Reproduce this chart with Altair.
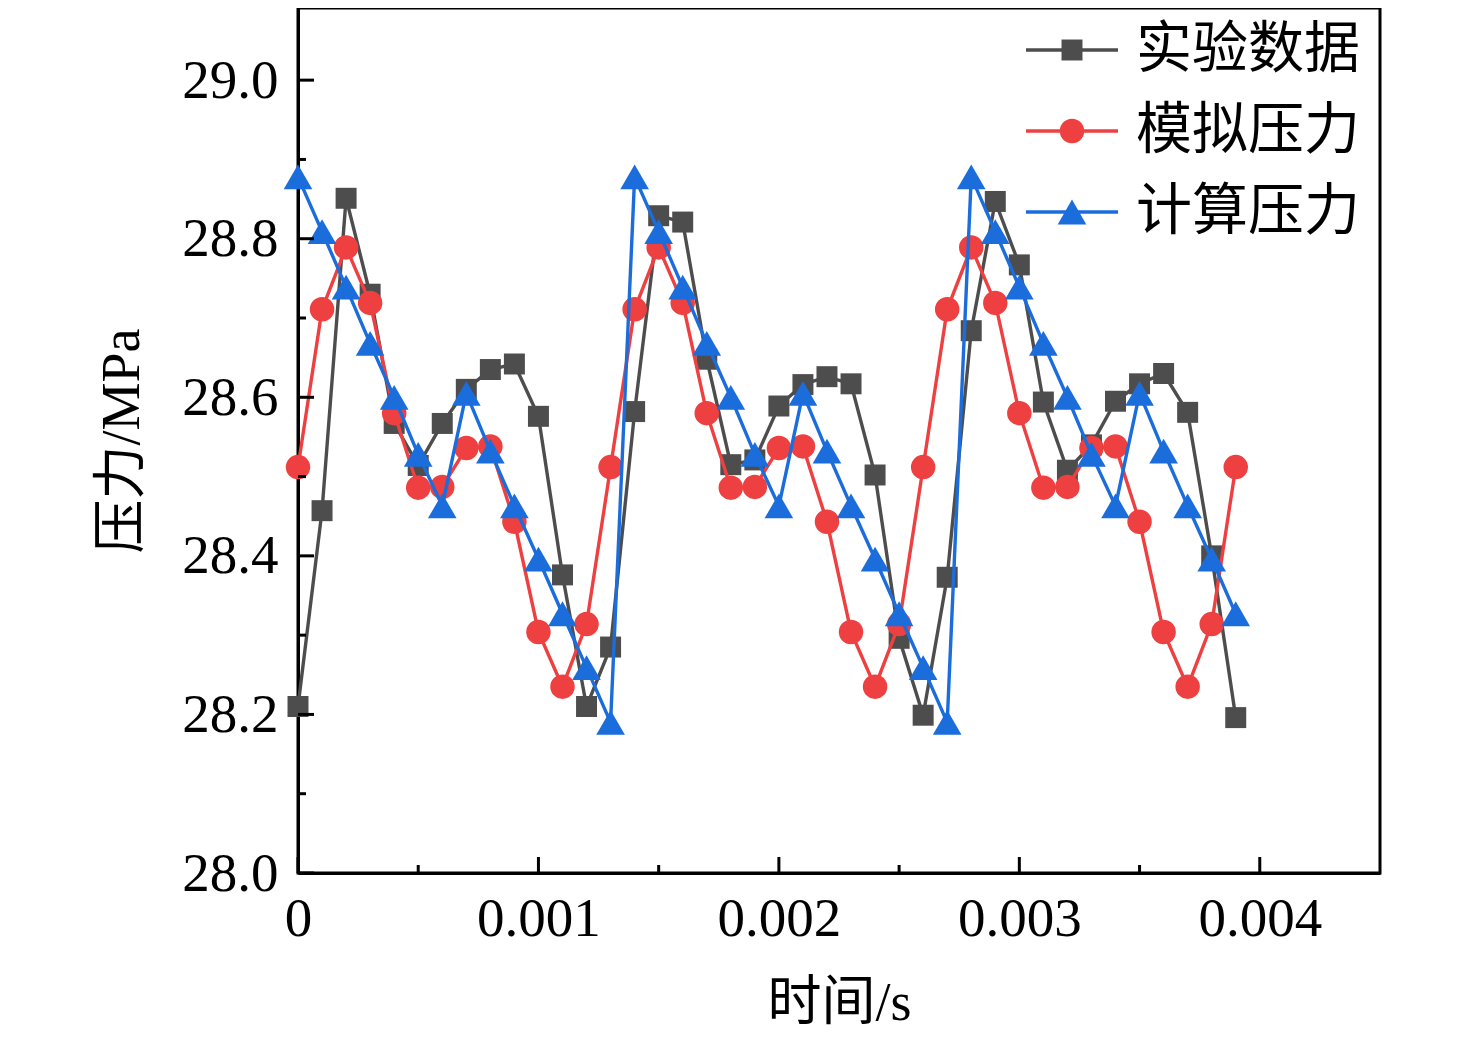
"Pressure vs time: experiment, simulation and calculation"

import pandas as pd
import altair as alt

time_s = [0.0, 0.0001, 0.0002, 0.0003, 0.0004, 0.0005, 0.0006, 0.0007, 0.0008, 0.0009,
          0.0010, 0.0011, 0.0012, 0.0013, 0.0014, 0.0015, 0.0016, 0.0017, 0.0018, 0.0019,
          0.0020, 0.0021, 0.0022, 0.0023, 0.0024, 0.0025, 0.0026, 0.0027, 0.0028, 0.0029,
          0.0030, 0.0031, 0.0032, 0.0033, 0.0034, 0.0035, 0.0036, 0.0037, 0.0038, 0.0039]

experiment = [28.210, 28.457, 28.851, 28.730, 28.567, 28.514, 28.567, 28.610, 28.635, 28.642,
              28.576, 28.376, 28.210, 28.285, 28.582, 28.829, 28.821, 28.648, 28.515, 28.521,
              28.589, 28.616, 28.626, 28.617, 28.502, 28.296, 28.199, 28.373, 28.684, 28.847,
              28.767, 28.594, 28.508, 28.540, 28.595, 28.617, 28.630, 28.581, 28.400, 28.196]

simulated = [28.512, 28.711, 28.789, 28.719, 28.580, 28.486, 28.487, 28.536, 28.538, 28.443,
             28.304, 28.235, 28.314, 28.512, 28.711, 28.789, 28.719, 28.580, 28.486, 28.487,
             28.536, 28.538, 28.443, 28.304, 28.235, 28.314, 28.512, 28.711, 28.789, 28.719,
             28.580, 28.486, 28.487, 28.536, 28.538, 28.443, 28.304, 28.235, 28.314, 28.512]

calculated = [28.878, 28.809, 28.739, 28.668, 28.600, 28.528, 28.463, 28.605, 28.532, 28.463,
              28.396, 28.327, 28.259, 28.190, 28.878, 28.809, 28.739, 28.668, 28.600, 28.528,
              28.463, 28.605, 28.532, 28.463, 28.396, 28.327, 28.259, 28.190, 28.878, 28.809,
              28.739, 28.668, 28.600, 28.528, 28.463, 28.605, 28.532, 28.463, 28.396, 28.327]

series_names = ["实验数据", "模拟压力", "计算压力"]
series_colors = ["#4D4D4D", "#EE4041", "#1B6DDC"]
series_shapes = ["square", "circle", "triangle-up"]
series_sizes = [440, 600, 820]

x_major = [0.0, 0.001, 0.002, 0.003, 0.004]
x_minor = [0.0005, 0.0015, 0.0025, 0.0035]
y_major = [28.0, 28.2, 28.4, 28.6, 28.8, 29.0]
y_minor = [28.1, 28.3, 28.5, 28.7, 28.9]

FONT = "Liberation Serif, Noto Sans CJK SC"
LINE_W = 3.4

df = pd.concat([
    pd.DataFrame({"time": time_s, "value": vals, "series": name})
    for name, vals in zip(series_names, [experiment, simulated, calculated])
])

x_enc = alt.X("time:Q", scale=alt.Scale(domain=[0, 0.0045], nice=False),
              axis=alt.Axis(values=x_major, format="~g", title="时间/s", labelFlush=False,
                            labelPadding=19, titlePadding=30))
y_enc = alt.Y("value:Q", scale=alt.Scale(domain=[28.0, 29.091], nice=False, zero=False),
              axis=alt.Axis(values=y_major, format=".1f", title="压力/MPa", labelFlush=False,
                            labelPadding=20, titlePadding=32))
color_enc = alt.Color("series:N", scale=alt.Scale(domain=series_names, range=series_colors),
                      legend=None)

# legend rows share a point scale keyed on the series name
legend_df = pd.DataFrame({"series": series_names})
legend_y = alt.Y("series:N", axis=None,
                 scale=alt.Scale(type="point", domain=series_names, range=[42, 204], padding=0))

base = alt.Chart(df)
legend_base = alt.Chart(legend_df)
layers = []
legend_layers = []
for name, shape, size in zip(series_names, series_shapes, series_sizes):
    one = base.transform_filter(alt.datum.series == name)
    layers.append(one.mark_line(strokeWidth=LINE_W).encode(x=x_enc, y=y_enc, color=color_enc))
    layers.append(one.mark_point(filled=True, opacity=1, shape=shape, size=size).encode(
        x=x_enc, y=y_enc, color=color_enc))

    row = legend_base.transform_filter(alt.datum.series == name)
    legend_layers.append(row.mark_rule(strokeWidth=LINE_W).encode(
        y=legend_y, x=alt.value(728), x2=alt.value(820), color=color_enc))
    legend_layers.append(row.mark_point(filled=True, opacity=1, shape=shape, size=size).encode(
        y=legend_y, x=alt.value(774), color=color_enc))

legend_layers.append(legend_base.mark_text(
    align="left", baseline="middle", fontSize=56, font=FONT, color="black").encode(
    y=legend_y, x=alt.value(838), text="series:N"))

# inward ticks, drawn as rules on the shared scales
y_major_ticks = alt.Chart(pd.DataFrame({"value": y_major})).mark_rule(
    color="black", strokeWidth=3).encode(y=y_enc, x=alt.value(0), x2=alt.value(16))
y_minor_ticks = alt.Chart(pd.DataFrame({"value": y_minor})).mark_rule(
    color="black", strokeWidth=3).encode(y=y_enc, x=alt.value(0), x2=alt.value(8))
x_major_ticks = alt.Chart(pd.DataFrame({"time": x_major})).mark_rule(
    color="black", strokeWidth=3).encode(x=x_enc, y=alt.value(865), y2=alt.value(849))
x_minor_ticks = alt.Chart(pd.DataFrame({"time": x_minor})).mark_rule(
    color="black", strokeWidth=3).encode(x=x_enc, y=alt.value(865), y2=alt.value(857))

main = alt.layer(*layers, y_major_ticks, y_minor_ticks, x_major_ticks, x_minor_ticks)
legend = alt.layer(*legend_layers)

chart = alt.layer(main, legend).resolve_scale(y="independent").properties(
    width=1082, height=865,
    background="white",
    autosize=alt.AutoSizeParams(type="none"),
    padding={"left": 290, "top": 0, "right": 80, "bottom": 160},
).configure_view(
    stroke="black", strokeWidth=3
).configure_axis(
    domainColor="black", domainWidth=3, ticks=False, grid=False,
    labelFont=FONT, labelFontSize=55, labelColor="black",
    titleFont=FONT, titleFontSize=54, titleFontWeight="normal", titleColor="black",
)

chart.save("out.html", embed_options={"renderer": "svg", "actions": False})
